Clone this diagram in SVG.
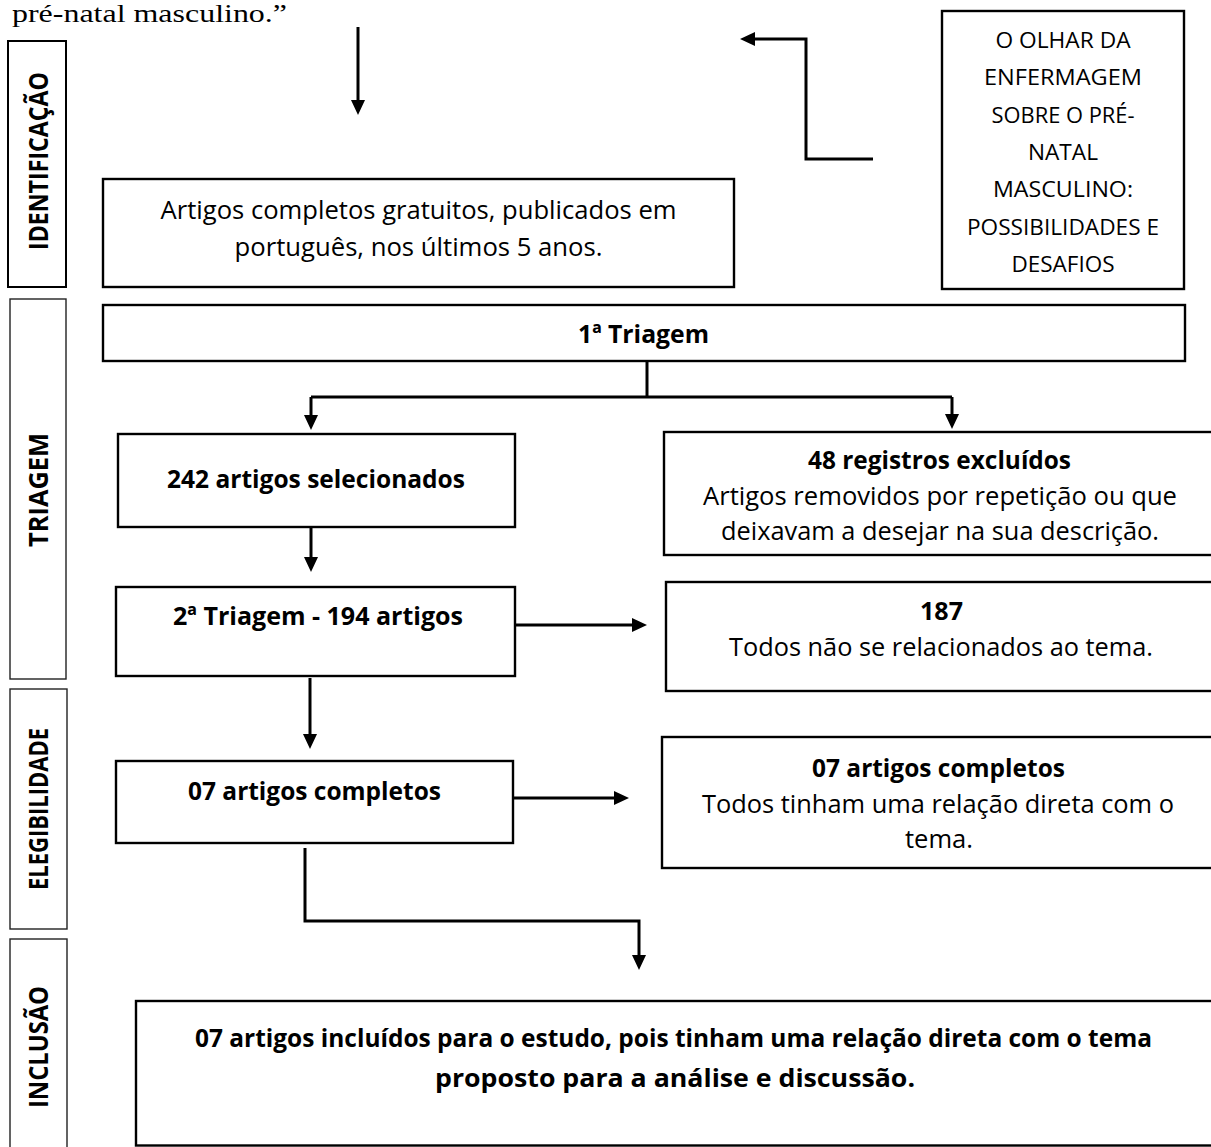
<svg xmlns="http://www.w3.org/2000/svg" width="1211" height="1147" viewBox="0 0 1211 1147">
<defs>
<style>
.box{fill:#fff;stroke:#000;stroke-width:2.4}
.side{fill:#fff;stroke:#222;stroke-width:1.4}
.t{font-family:"Open Sans","Liberation Sans",sans-serif;font-size:25.5px;fill:#000;text-anchor:middle}
.b{font-weight:700}
.tt{font-family:"Open Sans","Liberation Sans",sans-serif;font-size:21px;fill:#000;text-anchor:middle}
.sl{font-family:"Open Sans","Liberation Sans",sans-serif;font-size:26px;font-weight:700;fill:#000;text-anchor:middle}
.c{fill:none;stroke:#000;stroke-width:3}
</style>
<marker id="ah" markerUnits="userSpaceOnUse" markerWidth="15" markerHeight="14" viewBox="0 0 15 14" refX="2" refY="7" orient="auto">
<path d="M0,0 L15,7 L0,14 Z" fill="#000"/>
</marker>
</defs>
<rect width="1211" height="1147" fill="#fff"/>
<text x="12" y="22" font-family="'Liberation Serif',serif" font-size="26" textLength="275" lengthAdjust="spacingAndGlyphs">pré-natal masculino.”</text>

<g id="lbl-identificacao">
<rect class="side" x="8" y="41" width="58" height="246" style="stroke:#000;stroke-width:2"/>
<text class="sl" transform="translate(48,161) rotate(-90)" textLength="178" lengthAdjust="spacingAndGlyphs">IDENTIFICAÇÃO</text>
</g>
<g id="lbl-triagem">
<rect class="side" x="10" y="299" width="56" height="380"/>
<text class="sl" transform="translate(48,490) rotate(-90)" textLength="114" lengthAdjust="spacingAndGlyphs">TRIAGEM</text>
</g>
<g id="lbl-elegibilidade">
<rect class="side" x="10" y="689" width="57" height="240"/>
<text class="sl" transform="translate(48,809) rotate(-90)" textLength="162" lengthAdjust="spacingAndGlyphs">ELEGIBILIDADE</text>
</g>
<g id="lbl-inclusao">
<rect class="side" x="10" y="939" width="57" height="215"/>
<text class="sl" transform="translate(48,1047) rotate(-90)" textLength="122" lengthAdjust="spacingAndGlyphs">INCLUSÃO</text>
</g>

<g id="titulo">
<rect class="box" x="942" y="11" width="242" height="278"/>
<text class="tt" x="1063" y="48" textLength="135" lengthAdjust="spacingAndGlyphs">O OLHAR DA</text>
<text class="tt" x="1063" y="85" textLength="158" lengthAdjust="spacingAndGlyphs">ENFERMAGEM</text>
<text class="tt" x="1063" y="123" textLength="143" lengthAdjust="spacingAndGlyphs">SOBRE O PRÉ-</text>
<text class="tt" x="1063" y="160" textLength="70" lengthAdjust="spacingAndGlyphs">NATAL</text>
<text class="tt" x="1063" y="197" textLength="140" lengthAdjust="spacingAndGlyphs">MASCULINO:</text>
<text class="tt" x="1063" y="235" textLength="192" lengthAdjust="spacingAndGlyphs">POSSIBILIDADES E</text>
<text class="tt" x="1063" y="272" textLength="103" lengthAdjust="spacingAndGlyphs">DESAFIOS</text>
</g>

<g id="artigos-gratuitos">
<rect class="box" x="103" y="179" width="631" height="108"/>
<text class="t" x="418.5" y="219" textLength="516" lengthAdjust="spacingAndGlyphs">Artigos completos gratuitos, publicados em</text>
<text class="t" x="418.5" y="256" textLength="368" lengthAdjust="spacingAndGlyphs">português, nos últimos 5 anos.</text>
</g>

<g id="triagem1">
<rect class="box" x="103" y="305" width="1082" height="56"/>
<text class="t b" x="643.5" y="343" textLength="131" lengthAdjust="spacingAndGlyphs">1ª Triagem</text>
</g>

<g id="selecionados">
<rect class="box" x="118" y="434" width="397" height="93"/>
<text class="t b" x="316" y="488" textLength="298" lengthAdjust="spacingAndGlyphs">242 artigos selecionados</text>
</g>

<g id="excluidos">
<rect class="box" x="664" y="432" width="560" height="123"/>
<text class="t b" x="939.5" y="469" textLength="263" lengthAdjust="spacingAndGlyphs">48 registros excluídos</text>
<text class="t" x="940" y="505" textLength="474" lengthAdjust="spacingAndGlyphs">Artigos removidos por repetição ou que</text>
<text class="t" x="940" y="540" textLength="438" lengthAdjust="spacingAndGlyphs">deixavam a desejar na sua descrição.</text>
</g>

<g id="triagem2">
<rect class="box" x="116" y="587" width="399" height="89"/>
<text class="t b" x="318" y="625" textLength="290" lengthAdjust="spacingAndGlyphs">2ª Triagem - 194 artigos</text>
</g>

<g id="nao-relacionados">
<rect class="box" x="666" y="582" width="560" height="109"/>
<text class="t b" x="941.5" y="620" textLength="43" lengthAdjust="spacingAndGlyphs">187</text>
<text class="t" x="941" y="656" textLength="424" lengthAdjust="spacingAndGlyphs">Todos não se relacionados ao tema.</text>
</g>

<g id="completos">
<rect class="box" x="116" y="761" width="397" height="82"/>
<text class="t b" x="314.5" y="800" textLength="253" lengthAdjust="spacingAndGlyphs">07 artigos completos</text>
</g>

<g id="completos-relacao">
<rect class="box" x="662" y="737" width="560" height="131"/>
<text class="t b" x="938.5" y="777" textLength="253" lengthAdjust="spacingAndGlyphs">07 artigos completos</text>
<text class="t" x="938" y="813" textLength="472" lengthAdjust="spacingAndGlyphs">Todos tinham uma relação direta com o</text>
<text class="t" x="939" y="848" textLength="68" lengthAdjust="spacingAndGlyphs">tema.</text>
</g>

<g id="incluidos">
<rect class="box" x="136" y="1001" width="1090" height="144.5"/>
<text class="t b" x="673.5" y="1047" textLength="957" lengthAdjust="spacingAndGlyphs">07 artigos incluídos para o estudo, pois tinham uma relação direta com o tema</text>
<text class="t b" x="675" y="1087" textLength="480" lengthAdjust="spacingAndGlyphs">proposto para a análise e discussão.</text>
</g>

<g id="connectors">
<path class="c" d="M358,27 V102" marker-end="url(#ah)"/>
<path class="c" d="M873,159 H806 V39 H753" marker-end="url(#ah)"/>
<path class="c" d="M647,361 V397"/>
<path class="c" d="M311,397 H952"/>
<path class="c" d="M311,397 V417" marker-end="url(#ah)"/>
<path class="c" d="M952,397 V416" marker-end="url(#ah)"/>
<path class="c" d="M311,527 V559" marker-end="url(#ah)"/>
<path class="c" d="M515,625 H634" marker-end="url(#ah)"/>
<path class="c" d="M310,678 V736" marker-end="url(#ah)"/>
<path class="c" d="M513,798 H616" marker-end="url(#ah)"/>
<path class="c" d="M305,848 V921 H639 V957" marker-end="url(#ah)"/>
</g>
</svg>
